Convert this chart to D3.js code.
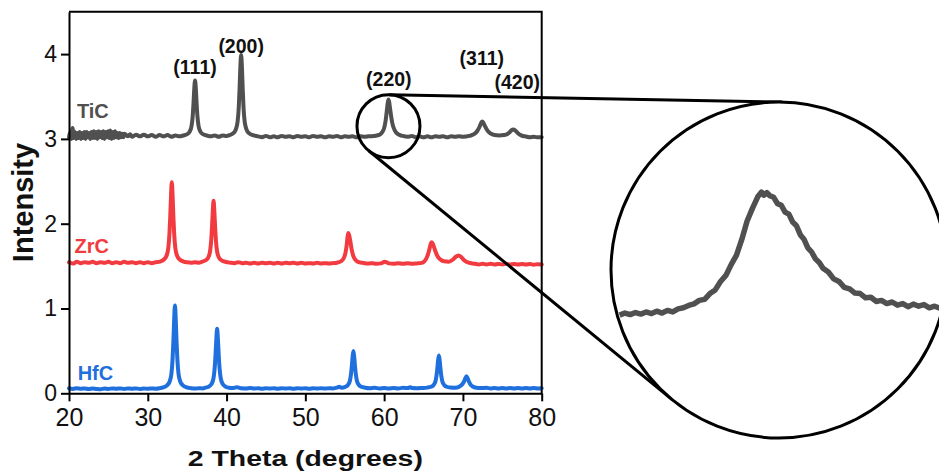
<!DOCTYPE html>
<html>
<head>
<meta charset="utf-8">
<script src="https://cdn.jsdelivr.net/npm/d3@7/dist/d3.min.js"></script>
<style>
  html, body { margin: 0; padding: 0; background: #fff; }
  svg { display: block; }
  text { font-family: "Liberation Sans", Arial, Helvetica, sans-serif; }
</style>
</head>
<body>
<script>
// ---- XRD patterns (2θ in degrees, stacked intensity in a.u.) ----
const ticPattern = [
  [20.0,3.02],[20.15,3.08],[20.3,3.00],[20.45,3.13],[20.6,3.01],[20.75,3.08],[20.9,3.00],[21.05,3.07],
  [21.2,3.01],[21.35,3.08],[21.5,3.00],[21.65,3.07],[21.8,3.01],[21.95,3.08],[22.1,3.00],[22.25,3.08],
  [22.4,3.02],[22.55,3.07],[22.7,3.00],[22.85,3.08],[23.0,3.01],[23.15,3.09],[23.3,3.01],[23.45,3.08],
  [23.6,3.00],[23.75,3.09],[23.9,3.02],[24.05,3.08],[24.2,3.01],[24.35,3.09],[24.5,3.00],[24.65,3.08],
  [24.8,3.02],[24.95,3.09],[25.1,3.01],[25.25,3.10],[25.4,3.00],[25.55,3.08],[25.7,3.01],[25.85,3.09],
  [26.0,3.02],[26.15,3.07],[26.3,3.01],[26.45,3.07],[26.6,3.02],[26.75,3.06],[26.9,3.02],[27.05,3.06],
  [27.5,3.03],[27.75,3.055],[28.0,3.025],[28.5,3.05],[29.0,3.03],[29.5,3.05],[30.0,3.03],[30.5,3.045],[31.0,3.025],
  [31.5,3.045],[32.0,3.03],[32.5,3.045],[33.0,3.025],[33.5,3.04],[34.0,3.03],
  [34.5,3.040],[35.0,3.056],[35.3,3.083],[35.55,3.149],[35.7,3.268],[35.8,3.413],[35.9,3.591],[36.0,3.690],
  [36.1,3.591],[36.2,3.413],[36.3,3.268],[36.45,3.149],[36.7,3.083],[37.0,3.056],[37.5,3.040],
  [38.0,3.03],[38.5,3.04],[39.0,3.025],[39.5,3.04],[40.0,3.035],
  [40.35,3.044],[40.85,3.068],[41.15,3.107],[41.4,3.203],[41.55,3.376],[41.65,3.587],[41.75,3.846],[41.85,3.990],
  [41.95,3.846],[42.05,3.587],[42.15,3.376],[42.3,3.203],[42.55,3.107],[42.85,3.068],[43.35,3.044],
  [44.0,3.03],[44.5,3.02],[45.0,3.035],[45.5,3.02],[46.0,3.03],[46.5,3.02],[47.0,3.035],[47.5,3.025],
  [48.0,3.03],[48.5,3.02],[49.0,3.035],[49.5,3.025],[50.0,3.03],[50.5,3.02],[51.0,3.035],[51.5,3.025],
  [52.0,3.03],[52.5,3.02],[53.0,3.03],[53.5,3.025],[54.0,3.035],[54.5,3.02],[55.0,3.03],[55.5,3.025],
  [56.0,3.03],[56.5,3.02],[57.0,3.03],[57.5,3.025],[58.0,3.03],
  [58.75,3.034],[59.35,3.047],[59.75,3.078],[60.05,3.144],[60.2,3.223],[60.35,3.342],[60.45,3.421],[60.55,3.465],
  [60.65,3.430],[60.75,3.360],[60.9,3.260],[61.05,3.180],[61.35,3.100],[61.75,3.055],[62.35,3.035],
  [63.0,3.025],[63.5,3.035],[64.0,3.02],[64.5,3.03],[65.0,3.02],[65.5,3.03],[66.0,3.02],[66.5,3.03],
  [67.0,3.025],[67.5,3.03],[68.0,3.02],[68.5,3.03],[69.0,3.025],[69.5,3.03],[70.0,3.025],
  [70.8,3.035],[71.4,3.055],[71.8,3.090],[72.1,3.140],[72.3,3.185],[72.45,3.205],[72.6,3.190],[72.8,3.150],
  [73.1,3.100],[73.5,3.065],[74.0,3.045],[74.6,3.040],[75.2,3.045],
  [75.6,3.055],[75.9,3.075],[76.15,3.100],[76.4,3.110],[76.65,3.098],[76.95,3.070],[77.4,3.042],
  [78.0,3.028],[78.5,3.02],[79.0,3.025],[79.5,3.018],[80.0,3.02]
];

const zrcPattern = [
  [20.0,1.545],[20.5,1.53],[21.0,1.55],[21.5,1.535],[22.0,1.545],[22.5,1.54],[23.0,1.55],[23.5,1.535],
  [24.0,1.545],[24.5,1.54],[25.0,1.55],[25.5,1.535],[26.0,1.545],[26.5,1.535],[27.0,1.55],[27.5,1.54],
  [28.0,1.545],[28.5,1.535],[29.0,1.545],[29.5,1.535],[30.0,1.545],[30.5,1.535],[31.0,1.545],
  [31.55,1.554],[32.05,1.578],[32.35,1.616],[32.6,1.711],[32.75,1.882],[32.85,2.082],[32.95,2.329],[33.05,2.490],
  [33.15,2.329],[33.25,2.082],[33.35,1.882],[33.5,1.711],[33.75,1.616],[34.05,1.578],[34.55,1.554],
  [35.0,1.545],[35.5,1.54],[36.0,1.545],[36.5,1.54],
  [36.85,1.551],[37.35,1.569],[37.65,1.598],[37.9,1.671],[38.05,1.803],[38.15,1.956],[38.25,2.146],[38.35,2.270],
  [38.45,2.146],[38.55,1.956],[38.65,1.803],[38.8,1.671],[39.05,1.598],[39.35,1.569],[39.85,1.551],
  [40.5,1.54],[41.0,1.535],[41.5,1.545],[42.0,1.535],[42.5,1.54],[43.0,1.53],[43.5,1.54],[44.0,1.53],
  [44.5,1.54],[45.0,1.535],[45.5,1.54],[46.0,1.53],[46.5,1.54],[47.0,1.53],[47.5,1.54],[48.0,1.535],
  [48.5,1.54],[49.0,1.53],[49.5,1.54],[50.0,1.53],[50.5,1.535],[51.0,1.53],[51.5,1.54],[52.0,1.53],
  [52.5,1.535],[53.0,1.53],[53.5,1.535],
  [54.0,1.540],[54.5,1.555],[54.85,1.590],[55.1,1.660],[55.25,1.750],[55.35,1.840],[55.45,1.890],[55.55,1.870],
  [55.7,1.800],[55.85,1.710],[56.05,1.630],[56.3,1.580],[56.7,1.550],[57.3,1.538],
  [58.0,1.53],[58.5,1.535],[59.0,1.528],[59.6,1.532],[60.1,1.552],[60.6,1.532],[61.2,1.528],[61.8,1.535],
  [62.4,1.527],[63.0,1.533],[63.6,1.527],[64.1,1.532],
  [64.6,1.535],[65.1,1.555],[65.5,1.620],[65.75,1.700],[65.95,1.770],[66.05,1.780],[66.2,1.760],[66.45,1.690],
  [66.75,1.620],[67.1,1.580],[67.6,1.556],[68.2,1.552],[68.7,1.575],[69.1,1.610],[69.45,1.625],[69.8,1.605],
  [70.2,1.565],[70.7,1.540],[71.5,1.528],
  [72.0,1.52],[72.5,1.528],[73.0,1.52],[73.5,1.527],[74.0,1.518],[74.5,1.526],[75.0,1.52],[75.5,1.527],
  [76.0,1.518],[76.5,1.525],[77.0,1.518],[77.5,1.526],[78.0,1.518],[78.5,1.524],[79.0,1.517],[79.5,1.523],[80.0,1.518]
];

const hfcPattern = [
  [20.0,0.06],[20.5,0.052],[21.0,0.06],[21.5,0.053],[22.0,0.058],[22.5,0.05],[23.0,0.058],[23.5,0.052],
  [24.0,0.048],[24.5,0.056],[25.0,0.052],[25.5,0.058],[26.0,0.053],[26.5,0.058],[27.0,0.052],[27.5,0.058],
  [28.0,0.053],[28.5,0.058],[29.0,0.052],[29.5,0.057],[30.0,0.053],[30.5,0.058],[31.0,0.054],[31.5,0.06],
  [31.95,0.070],[32.45,0.094],[32.75,0.133],[33.0,0.231],[33.15,0.408],[33.25,0.614],[33.35,0.868],[33.45,1.035],
  [33.55,0.868],[33.65,0.614],[33.75,0.408],[33.9,0.231],[34.15,0.133],[34.45,0.094],[34.95,0.070],
  [35.5,0.06],[36.0,0.056],[36.5,0.06],[37.0,0.058],
  [37.3,0.066],[37.8,0.083],[38.1,0.111],[38.35,0.182],[38.5,0.309],[38.6,0.457],[38.7,0.640],[38.8,0.760],
  [38.9,0.640],[39.0,0.457],[39.1,0.309],[39.25,0.182],[39.5,0.111],[39.8,0.083],[40.3,0.066],
  [40.8,0.062],[41.3,0.072],[41.8,0.06],[42.5,0.058],[43.0,0.062],[43.5,0.056],[44.0,0.06],[44.5,0.055],
  [45.0,0.06],[45.5,0.056],[46.0,0.06],[46.5,0.055],[47.0,0.06],[47.5,0.056],[48.0,0.06],[48.5,0.055],
  [49.0,0.06],[49.5,0.056],[50.0,0.06],[50.5,0.055],[51.0,0.06],[51.5,0.056],[52.0,0.06],[52.5,0.056],
  [53.0,0.06],[53.5,0.058],[54.0,0.066],[54.3,0.078],[54.6,0.066],
  [55.1,0.078],[55.4,0.098],[55.65,0.146],[55.8,0.230],[55.9,0.322],[56.0,0.432],[56.1,0.500],[56.2,0.432],
  [56.3,0.322],[56.4,0.230],[56.55,0.146],[56.8,0.098],[57.1,0.078],[57.6,0.066],
  [58.2,0.06],[58.8,0.064],[59.4,0.058],[60.0,0.063],[60.6,0.058],[61.2,0.062],[61.8,0.058],[62.4,0.064],
  [63.0,0.062],[63.3,0.072],[63.6,0.062],[64.2,0.06],[64.8,0.063],[65.45,0.067],
  [65.95,0.077],[66.25,0.095],[66.5,0.137],[66.65,0.210],[66.75,0.291],[66.85,0.387],[66.95,0.445],[67.05,0.387],
  [67.15,0.291],[67.25,0.210],[67.4,0.137],[67.65,0.095],[67.95,0.077],
  [68.4,0.068],[68.9,0.066],[69.25,0.068],
  [69.65,0.085],[69.95,0.11],[70.15,0.14],[70.3,0.175],[70.45,0.200],[70.6,0.175],[70.75,0.14],[70.95,0.105],
  [71.25,0.08],[71.7,0.066],
  [72.3,0.062],[73.0,0.064],[73.5,0.058],[74.0,0.063],[74.5,0.058],[75.0,0.063],[75.5,0.057],[76.0,0.062],
  [76.5,0.058],[77.0,0.062],[77.5,0.057],[78.0,0.062],[78.5,0.058],[79.0,0.062],[79.5,0.058],[80.0,0.06]
];

// Fine scan of the TiC (220) reflection shown in the magnified circle
const tic220Detail = [
  [58.70,3.012],[58.77,3.020],[58.84,3.014],[58.91,3.022],[58.98,3.016],[59.05,3.024],[59.12,3.018],[59.19,3.027],
  [59.26,3.020],[59.33,3.030],[59.40,3.024],[59.47,3.036],[59.54,3.040],[59.61,3.049],[59.68,3.055],[59.75,3.068],
  [59.82,3.072],[59.89,3.094],[59.96,3.108],[60.03,3.140],[60.10,3.163],[60.17,3.204],[60.24,3.240],[60.31,3.300],
  [60.38,3.370],[60.45,3.418],[60.52,3.462],[60.57,3.480],[60.60,3.468],[60.64,3.478],[60.68,3.466],[60.73,3.460],
  [60.78,3.436],[60.83,3.430],[60.88,3.404],[60.93,3.396],[60.98,3.366],[61.03,3.352],[61.08,3.318],[61.13,3.300],
  [61.18,3.268],[61.23,3.252],[61.28,3.226],[61.33,3.212],[61.38,3.190],[61.45,3.176],[61.52,3.150],[61.59,3.140],
  [61.66,3.118],[61.73,3.112],[61.80,3.096],[61.87,3.094],[61.94,3.078],[62.01,3.080],[62.08,3.064],[62.15,3.068],
  [62.22,3.056],[62.29,3.062],[62.36,3.050],[62.43,3.056],[62.50,3.044],[62.57,3.054],[62.64,3.046],[62.71,3.052],
  [62.78,3.040],[62.85,3.046],[62.92,3.038],[62.99,3.042]
];

const seriesNames = ["TiC", "ZrC", "HfC"];
const seriesColors = ["#505050", "#f23b40", "#1f6fdc"];
const seriesLabelAt = [[21.0, 3.25], [20.7, 1.66], [21.1, 0.16]];

const peakLabels = ["(111)", "(200)", "(220)", "(311)", "(420)"];
const peakLabelAt = [[36.0, 3.76], [41.85, 4.01], [60.6, 3.62], [72.4, 3.87], [76.9, 3.59]];

const xTicks = [20, 30, 40, 50, 60, 70, 80];
const yTicks = [0, 1, 2, 3, 4];
const xTitle = "2 Theta (degrees)";
const yTitle = "Intensity";

// ---- layout ----
const W = 939, H = 476;
const plot = { left: 69, right: 541.7, top: 11.7, bottom: 393.3 };

const svg = d3.select("body").append("svg").attr("width", W).attr("height", H);

const x = d3.scaleLinear().domain([20, 80]).range([plot.left, plot.right]);
const y = d3.scaleLinear().domain([0, 4.5]).range([plot.bottom, plot.top]);

const line = d3.line()
  .x(d => x(d[0])).y(d => y(d[1]))
  .curve(d3.curveMonotoneX);

// patterns
[ticPattern, zrcPattern, hfcPattern].forEach((pat, i) => {
  svg.append("path")
    .datum(pat)
    .attr("d", line)
    .attr("fill", "none")
    .attr("stroke", seriesColors[i])
    .attr("stroke-width", 4)
    .attr("stroke-linejoin", "round")
    .attr("stroke-linecap", "round");
});

// axes
const xAxis = svg.append("g")
  .attr("transform", `translate(0,${plot.bottom})`)
  .call(d3.axisBottom(x).tickValues(xTicks).tickFormat(d3.format("d"))
    .tickSize(8).tickSizeOuter(0).tickPadding(6.5));
const yAxis = svg.append("g")
  .attr("transform", `translate(${plot.left},0)`)
  .call(d3.axisLeft(y).tickValues(yTicks).tickFormat(d3.format("d"))
    .tickSize(8).tickSizeOuter(0).tickPadding(4));

[xAxis, yAxis].forEach(g => {
  g.select(".domain").attr("stroke", "#000").attr("stroke-width", 2);
  g.selectAll(".tick line").attr("stroke", "#000").attr("stroke-width", 2);
  g.selectAll(".tick text").attr("fill", "#111").style("font-family", '"Liberation Sans", Arial, sans-serif');
});
xAxis.selectAll(".tick text").attr("font-size", 25);
yAxis.selectAll(".tick text").attr("font-size", 23);

// frame: top and right edges
svg.append("path")
  .attr("d", `M${plot.left},${plot.top}H${plot.right}V${plot.bottom}`)
  .attr("fill", "none").attr("stroke", "#000").attr("stroke-width", 2);

// axis titles
svg.append("text")
  .attr("x", (plot.left + plot.right) / 2 - 117.5)
  .attr("y", 466)
  .attr("font-size", 21.5).attr("font-weight", "bold").attr("fill", "#111")
  .attr("textLength", 235).attr("lengthAdjust", "spacingAndGlyphs")
  .text(xTitle);

svg.append("text")
  .attr("transform", `translate(33,${(plot.top + plot.bottom) / 2}) rotate(-90)`)
  .attr("text-anchor", "middle")
  .attr("font-size", 29).attr("font-weight", "bold").attr("fill", "#111")
  .text(yTitle);

// series labels
seriesNames.forEach((name, i) => {
  svg.append("text")
    .attr("x", x(seriesLabelAt[i][0]))
    .attr("y", y(seriesLabelAt[i][1]))
    .attr("font-size", 20).attr("font-weight", "bold")
    .attr("fill", seriesColors[i])
    .text(name);
});

// Miller index labels
peakLabels.forEach((lab, i) => {
  svg.append("text")
    .attr("x", x(peakLabelAt[i][0]))
    .attr("y", y(peakLabelAt[i][1]))
    .attr("text-anchor", "middle")
    .attr("font-size", 19.5).attr("font-weight", "bold").attr("fill", "#111")
    .text(lab);
});

// ---- magnifier: small circle on the (220) peak, large circle with fine scan ----
const small = { cx: x(60.55), cy: y(3.15), r: 31.5 };
const big = { cx: 779, cy: 270, r: 168 };

// external tangent lines joining the two circles
const dx = big.cx - small.cx, dy = big.cy - small.cy;
const dist = Math.hypot(dx, dy);
const theta = Math.atan2(dy, dx);
const phi = Math.acos((small.r - big.r) / dist);
[theta - phi, theta + phi].forEach(a => {
  const nx = Math.cos(a), ny = Math.sin(a);
  svg.append("line")
    .attr("x1", small.cx + small.r * nx).attr("y1", small.cy + small.r * ny)
    .attr("x2", big.cx + big.r * nx).attr("y2", big.cy + big.r * ny)
    .attr("stroke", "#000").attr("stroke-width", 3);
});

svg.append("circle")
  .attr("cx", small.cx).attr("cy", small.cy).attr("r", small.r)
  .attr("fill", "none").attr("stroke", "#000").attr("stroke-width", 3);

svg.append("circle")
  .attr("cx", big.cx).attr("cy", big.cy).attr("r", big.r)
  .attr("fill", "#fff");

svg.append("clipPath").attr("id", "lensClip")
  .append("circle").attr("cx", big.cx).attr("cy", big.cy).attr("r", big.r);

const ix = d3.scaleLinear().domain([58.6, 63.0]).range([612, 946]);
const iy = d3.scaleLinear().domain([3.0, 3.5]).range([318.3, 186.8]);

svg.append("path")
  .datum(tic220Detail)
  .attr("clip-path", "url(#lensClip)")
  .attr("d", d3.line().x(d => ix(d[0])).y(d => iy(d[1])))
  .attr("fill", "none")
  .attr("stroke", seriesColors[0])
  .attr("stroke-width", 5.5)
  .attr("stroke-linejoin", "round");

svg.append("circle")
  .attr("cx", big.cx).attr("cy", big.cy).attr("r", big.r)
  .attr("fill", "none").attr("stroke", "#000").attr("stroke-width", 3);
</script>
</body>
</html>
